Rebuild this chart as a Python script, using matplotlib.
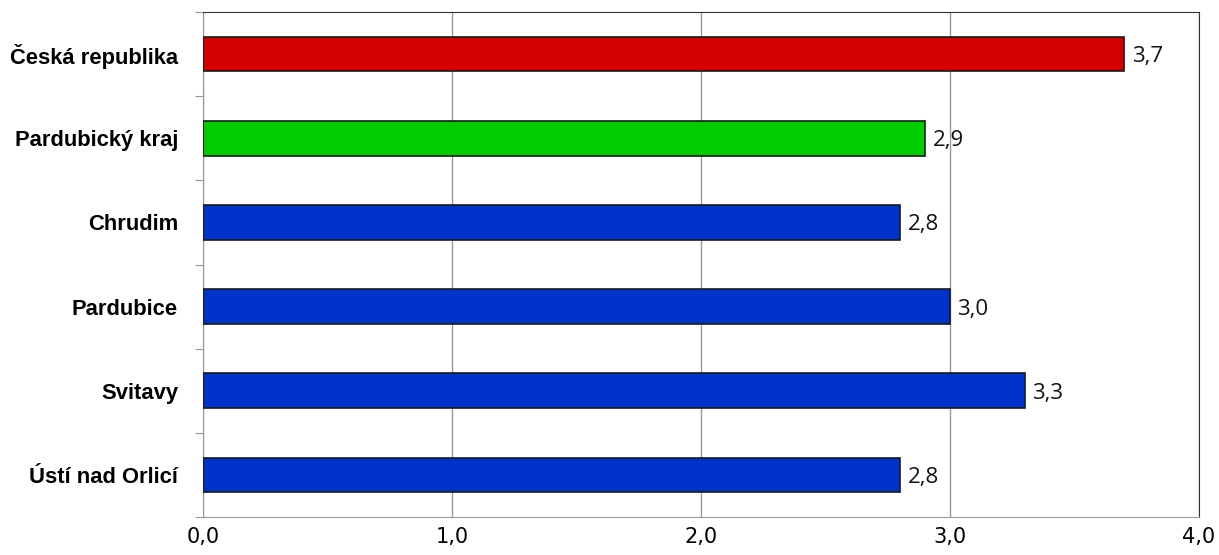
import matplotlib.pyplot as plt

categories = ["Česká republika", "Pardubický kraj", "Chrudim", "Pardubice", "Svitavy", "Ústí nad Orlicí"]
values = [3.7, 2.9, 2.8, 3.0, 3.3, 2.8]
colors = ["#d40000", "#00cc00", "#0033cc", "#0033cc", "#0033cc", "#0033cc"]
xticks = [0, 1, 2, 3, 4]

fig = plt.figure(figsize=(12.19, 5.55), dpi=100)
W, H = 1219, 555
ax = fig.add_axes([203 / W, 1 - 517 / H, (1199 - 203) / W, (517 - 12) / H])
y = list(range(len(categories)))
ax.barh(y, values, height=0.41, color=colors, edgecolor="#1a1a1a", linewidth=1.2, zorder=3)
for yi, v in zip(y, values):
    ax.text(v + 0.03, yi + 0.03, f"{v:.1f}".replace(".", ","), va="center", ha="left",
            fontsize=16, family="Open Sans", color="#111111")
ax.set_ylim(len(categories) - 0.5, -0.5)
ax.set_xlim(0, 4)
ax.set_yticks([i + 0.5 for i in range(-1, len(categories))])
ax.set_yticklabels([])
ax.set_yticks(y, minor=True)
ax.set_yticklabels(categories, minor=True, fontsize=15.8, fontweight="bold", family="Liberation Sans")
ax.tick_params(axis="y", which="minor", length=0, pad=18)
ax.tick_params(axis="y", which="major", length=6, color="#999999")
ax.set_xticks(xticks)
ax.set_xticklabels([f"{t:.1f}".replace(".", ",") for t in xticks], fontsize=15, family="DejaVu Sans")
ax.tick_params(axis="x", length=0, pad=7)
ax.grid(axis="x", color="#999999", linewidth=1, zorder=0)
for s in ["left", "bottom"]:
    ax.spines[s].set_color("#999999")
for s in ["top", "right"]:
    ax.spines[s].set_color("#333333")
fig.savefig("out.png", dpi=100)
